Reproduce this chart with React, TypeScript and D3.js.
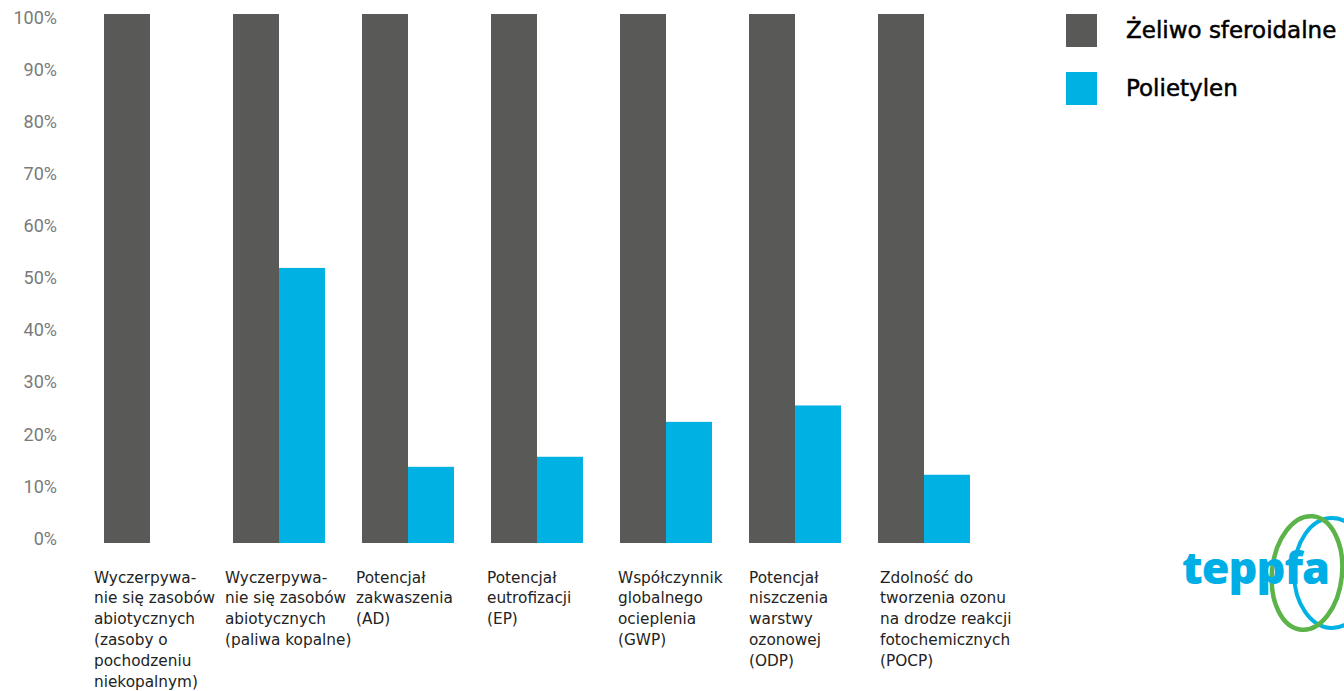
import React from "react";
import * as d3 from "d3";

const categories: string[][] = [
  ["Wyczerpywa-", "nie się zasobów", "abiotycznych", "(zasoby o", "pochodzeniu", "niekopalnym)"],
  ["Wyczerpywa-", "nie się zasobów", "abiotycznych", "(paliwa kopalne)"],
  ["Potencjał", "zakwaszenia", "(AD)"],
  ["Potencjał", "eutrofizacji", "(EP)"],
  ["Współczynnik", "globalnego", "ocieplenia", "(GWP)"],
  ["Potencjał", "niszczenia", "warstwy", "ozonowej", "(ODP)"],
  ["Zdolność do", "tworzenia ozonu", "na drodze reakcji", "fotochemicznych", "(POCP)"],
];
const zeliwo: number[] = [100, 100, 100, 100, 100, 100, 100];
const polietylen: (number | null)[] = [null, 52, 14.4, 16.3, 22.9, 26, 12.9];
const seriesNames = ["Żeliwo sferoidalne", "Polietylen"];
const seriesColors = ["#595957", "#00b2e3"];
const yTicks = [0, 10, 20, 30, 40, 50, 60, 70, 80, 90, 100];

export default function App() {
  const W = 1344, H = 691;
  const y = d3.scaleLinear().domain([0, 100]).range([543, 14]);
  const yLabel = d3.scaleLinear().domain([0, 100]).range([540, 19]);
  const idx = categories.map((_, i) => String(i));
  const x = d3.scaleBand().domain(idx).range([104, 970]).paddingInner(0.287).paddingOuter(0);
  const sub = d3.scaleBand().domain(["0", "1"]).range([0, x.bandwidth()]);
  const font = "'DejaVu Sans', sans-serif";

  return (
    <svg width={W} height={H} style={{ position: "absolute", left: 0, top: 0, background: "#fff" }}>
      {yTicks.map((t) => (
        <text key={t} x={57} y={yLabel(t)} textAnchor="end" dominantBaseline="middle"
          fontFamily="Roboto, sans-serif" fontSize={18} fill="#7a7a7a">{t}%</text>
      ))}
      {idx.map((k, i) => (
        <g key={k} transform={`translate(${x(k)},0)`}>
          <rect x={sub("0")} y={y(zeliwo[i])} width={sub.bandwidth()} height={y(0) - y(zeliwo[i])} fill={seriesColors[0]} />
          {polietylen[i] != null && (
            <rect x={sub("1")} y={y(polietylen[i] as number)} width={sub.bandwidth()}
              height={y(0) - y(polietylen[i] as number)} fill={seriesColors[1]} />
          )}
        </g>
      ))}
      {categories.map((lines, i) => (
        <text key={i} fontFamily={font} fontSize={15.3} fill="#222">
          {lines.map((l, j) => (
            <tspan key={j} x={(x(String(i)) as number) - 10 + i * 2} y={578 + j * 20.8} dominantBaseline="middle">{l}</tspan>
          ))}
        </text>
      ))}
      {seriesNames.map((n, i) => (
        <g key={n} transform={`translate(1066,${14 + i * 58})`}>
          <rect width={31} height={33} fill={seriesColors[i]} />
          <text x={60} y={17} dominantBaseline="middle" fontFamily={font} fontSize={23} fill="#000"
            stroke="#000" strokeWidth={0.5}>{n}</text>
        </g>
      ))}
      <g>
        <ellipse cx={1332} cy={573} rx={38} ry={55} fill="none" stroke="#00b2e3" strokeWidth={4} />
        <ellipse cx={1307} cy={573} rx={35} ry={57} fill="none" stroke="#5bb349" strokeWidth={4.5}
          transform="rotate(6 1307 573)" />
        <text x={1182} y={572} dominantBaseline="middle" fontFamily="'Open Sans', sans-serif" fontWeight={800}
          fontSize={45} fill="#00aee6" letterSpacing={-1}>teppfa</text>
      </g>
    </svg>
  );
}
